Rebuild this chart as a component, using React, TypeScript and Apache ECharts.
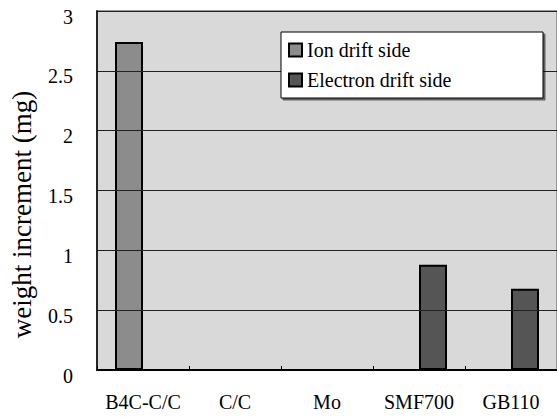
import React, { useEffect, useRef } from "react";
import * as echarts from "echarts";

const categories = ["B4C-C/C", "C/C", "Mo", "SMF700", "GB110"];
const ionDrift = [2.74, null, null, null, null];
const electronDrift = [null, null, null, 0.88, 0.68];
const seriesNames = ["Ion drift side", "Electron drift side"];
const yTitle = "weight increment (mg)";

const FONT = "Liberation Serif";

export default function App() {
  const ref = useRef<HTMLDivElement>(null);
  useEffect(() => {
    if (!ref.current) return;
    const chart = echarts.init(ref.current, null, { renderer: "svg" });
    chart.setOption({
      animation: false,
      backgroundColor: "#ffffff",
      textStyle: { fontFamily: FONT, color: "#000" },
      grid: {
        left: 93,
        top: 11,
        width: 467,
        height: 359,
        show: true,
        backgroundColor: "#d9d9d9",
        borderColor: "#999999",
        borderWidth: 2,
      },
      graphic: [
        {
          type: "rect",
          z: 10,
          shape: { x: 281, y: 32, width: 262, height: 66 },
          style: {
            fill: "#ffffff",
            stroke: "#000000",
            lineWidth: 1,
            shadowColor: "rgba(0,0,0,0.55)",
            shadowOffsetX: 2,
            shadowOffsetY: 2,
            shadowBlur: 0,
          },
        },
      ],
      legend: {
        z: 11,
        orient: "vertical",
        left: 288,
        top: 40,
        padding: 0,
        itemGap: 10,
        itemWidth: 13,
        itemHeight: 13,
        icon: "rect",
        data: seriesNames,
        textStyle: { fontFamily: FONT, fontSize: 20, color: "#000" },
      },
      xAxis: {
        type: "category",
        data: categories,
        axisLine: { show: true, lineStyle: { color: "#000", width: 2 } },
        axisTick: { show: true, inside: true, length: 4, lineStyle: { color: "#000" } },
        axisLabel: { fontFamily: FONT, fontSize: 20, color: "#000", margin: 22, interval: 0 },
        splitLine: { show: false },
        z: 5,
      },
      yAxis: {
        type: "value",
        min: 0,
        max: 3,
        interval: 0.5,
        name: yTitle,
        nameLocation: "middle",
        nameRotate: 90,
        nameGap: 62,
        nameTextStyle: { fontFamily: FONT, fontSize: 27, color: "#000", padding: [0, 48, 0, 0] },
        axisLine: { show: true, lineStyle: { color: "#000", width: 1.5 } },
        axisTick: { show: false },
        axisLabel: {
          fontFamily: FONT,
          fontSize: 20,
          color: "#000",
          margin: 24,
          verticalAlign: "top",
          lineHeight: 11,
        },
        splitLine: { show: true, lineStyle: { color: "#222", width: 1 } },
        z: 5,
      },
      series: [
        {
          name: seriesNames[0],
          type: "bar",
          data: ionDrift,
          barWidth: 28,
          barGap: "0%",
          itemStyle: { color: "#8c8c8c", borderColor: "#000", borderWidth: 2 },
        },
        {
          name: seriesNames[1],
          type: "bar",
          data: electronDrift,
          barWidth: 28,
          barGap: "0%",
          itemStyle: { color: "#555555", borderColor: "#000", borderWidth: 2 },
        },
      ],
    });
    return () => chart.dispose();
  }, []);
  return (
    <div
      ref={ref}
      style={{ position: "fixed", left: 0, top: 0, width: 557, height: 418 }}
    />
  );
}
